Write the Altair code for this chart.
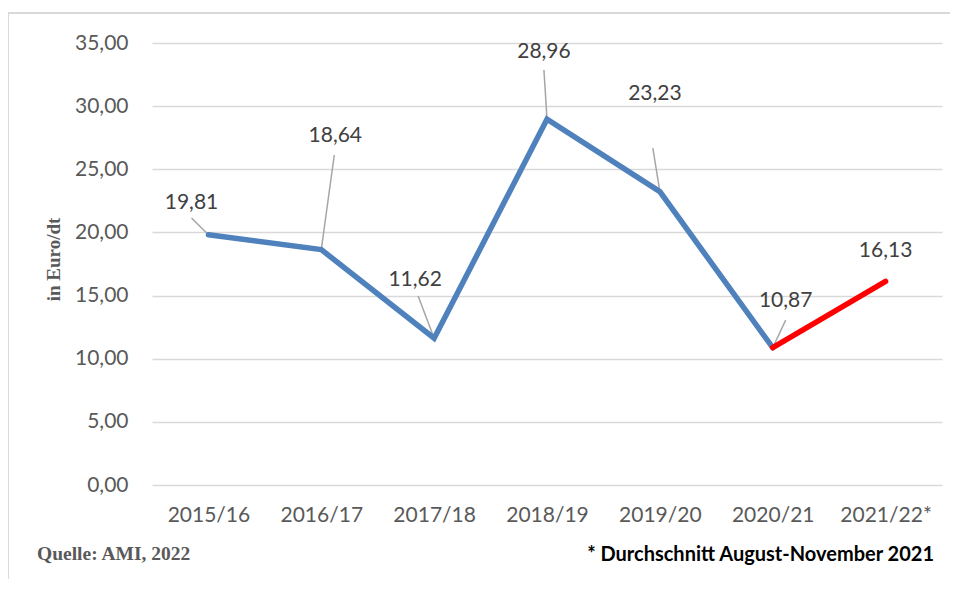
import altair as alt
import pandas as pd

# ---- data ----
categories = ["2015/16", "2016/17", "2017/18", "2018/19", "2019/20", "2020/21", "2021/22*"]
values = [19.81, 18.64, 11.62, 28.96, 23.23, 10.87, 16.13]
# which points belong to the blue (final) and red (preliminary) segments
blue_idx = [0, 1, 2, 3, 4, 5]
red_idx = [5, 6]

# data-label placement (category offset, value units) and leader-line start
label_dx = [-0.15, 0.124, -0.168, -0.027, -0.044, 0.115, 0.0]
label_y = [22.35, 27.65, 16.25, 34.25, 31.0, 14.6, 18.55]
leader_dx = [-0.15, 0.115, -0.142, -0.027, -0.062, 0.115, None]
leader_y = [21.14, 26.13, 14.96, 32.86, 26.68, 13.06, None]

source_text = ["Quelle: AMI, 2022"]
note_text = ["* Durchschnitt August-November 2021"]
y_title = "in Euro/dt"

W, H = 790, 442
FONT = "Lato"

idx = list(range(len(categories)))
df = pd.DataFrame({"idx": idx, "cat": categories, "value": values})
blue_df = df[df["idx"].isin(blue_idx)]
red_df = df[df["idx"].isin(red_idx)]

lab_df = pd.DataFrame({
    "lx": [i + d for i, d in zip(idx, label_dx)],
    "ly": label_y,
    "value": values,
})
lead_rows = [
    {"sx": i + dx, "sy": sy, "ex": i, "ey": v}
    for i, dx, sy, v in zip(idx, leader_dx, leader_y, values)
    if dx is not None
]
lead_df = pd.DataFrame(lead_rows)

cat_array = "[" + ",".join("'" + c + "'" for c in categories) + "]"

x_scale = alt.Scale(domain=[-0.5, len(categories) - 0.5], nice=False, zero=False)
y_scale = alt.Scale(domain=[0, 35], nice=False)

x_axis = alt.Axis(
    values=idx, labelExpr=cat_array + "[datum.value]", title=None, grid=False,
    domain=False, ticks=False, labelFont=FONT, labelFontSize=21,
    labelColor="#595959", labelPadding=19,
)
y_axis = alt.Axis(
    values=[0, 5, 10, 15, 20, 25, 30, 35],
    labelExpr="replace(format(datum.value, '.2f'), '.', ',')",
    title=y_title, titleFont="Liberation Serif", titleFontWeight="bold",
    titleFontSize=19, titleColor="#595959", titleAngle=270, titleAlign="center",
    titleBaseline="middle", titleX=-99, titleY=216,
    grid=True, gridColor="#d9d9d9", gridWidth=1.5, domain=False, ticks=False,
    labelFont=FONT, labelFontSize=21, labelColor="#595959", labelPadding=24,
)

base_axes = alt.Chart(df).mark_point(opacity=0).encode(
    x=alt.X("idx:Q", scale=x_scale, axis=x_axis),
    y=alt.Y("value:Q", scale=y_scale, axis=y_axis),
)

blue_line = alt.Chart(blue_df).mark_line(
    color="#4f81bd", strokeWidth=5.5, strokeCap="round"
).encode(
    x=alt.X("idx:Q", scale=x_scale),
    y=alt.Y("value:Q", scale=y_scale),
)
red_line = alt.Chart(red_df).mark_line(
    color="#ff0000", strokeWidth=5.5, strokeCap="round"
).encode(
    x=alt.X("idx:Q", scale=x_scale),
    y=alt.Y("value:Q", scale=y_scale),
)

leaders = alt.Chart(lead_df).mark_rule(color="#a6a6a6", strokeWidth=1.5).encode(
    x=alt.X("sx:Q", scale=x_scale),
    y=alt.Y("sy:Q", scale=y_scale),
    x2="ex:Q",
    y2="ey:Q",
)

labels = alt.Chart(lab_df).transform_calculate(
    txt="replace(format(datum.value, '.2f'), '.', ',')"
).mark_text(font=FONT, fontSize=21, color="#404040", baseline="middle").encode(
    x=alt.X("lx:Q", scale=x_scale),
    y=alt.Y("ly:Q", scale=y_scale),
    text="txt:N",
)

source = alt.Chart(pd.DataFrame({"t": source_text})).mark_text(
    font="Liberation Serif", fontWeight="bold", fontSize=19.5, color="#595959",
    align="left", baseline="middle",
).encode(x=alt.value(-115), y=alt.value(511), text="t:N")

note = alt.Chart(pd.DataFrame({"t": note_text})).mark_text(
    font=FONT, fontWeight="bold", fontSize=20, color="#000000",
    align="right", baseline="middle",
).encode(x=alt.value(782), y=alt.value(512), text="t:N")

frame_left = alt.Chart(pd.DataFrame({"t": [0]})).mark_rule(
    color="#d9d9d9", strokeWidth=2
).encode(x=alt.value(-144), y=alt.value(-30), y2=alt.value(560))
frame_top = alt.Chart(pd.DataFrame({"t": [0]})).mark_rule(
    color="#d9d9d9", strokeWidth=2
).encode(x=alt.value(-144), x2=alt.value(820), y=alt.value(-30))

chart = alt.layer(
    frame_left, frame_top, base_axes, leaders, blue_line, red_line, labels, source, note
).properties(
    width=W, height=H,
    autosize=alt.AutoSizeParams(type="none"),
    padding={"left": 144, "top": 35, "right": 8, "bottom": 94},
    background="white",
).configure_view(stroke=None)

chart.save("out.html", embed_options={"renderer": "svg", "actions": False})
